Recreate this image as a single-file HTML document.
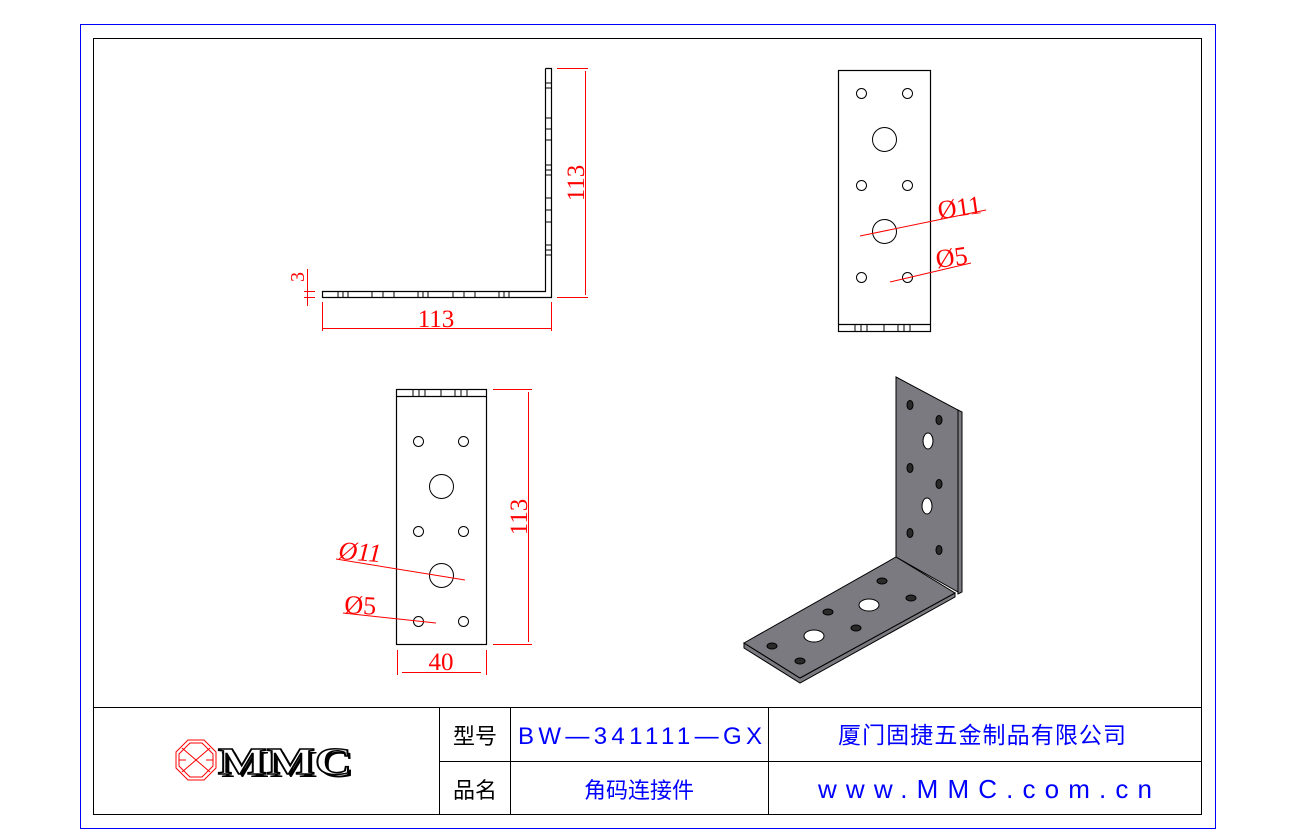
<!DOCTYPE html>
<html><head><meta charset="utf-8"><style>
html,body{margin:0;padding:0;background:#fff;}
svg{display:block;}
</style></head><body>
<svg width="1300" height="840" viewBox="0 0 1300 840" xmlns="http://www.w3.org/2000/svg">
<rect x="0" y="0" width="1300" height="840" fill="#fff"/>
<rect x="80.5" y="24.5" width="1135" height="804" fill="none" stroke="#00f" stroke-width="1"/>
<rect x="93.5" y="38.5" width="1108" height="776" fill="none" stroke="#000" stroke-width="1"/>
<!-- title block -->
<g stroke="#000" stroke-width="1">
<line x1="93" y1="707.5" x2="1202" y2="707.5"/>
<line x1="439.5" y1="761.5" x2="1202" y2="761.5"/>
<line x1="439.5" y1="707" x2="439.5" y2="815"/>
<line x1="510.5" y1="707" x2="510.5" y2="815"/>
<line x1="768.5" y1="707" x2="768.5" y2="815"/>
</g>
<g font-family="Liberation Sans, 'Noto Sans CJK SC', sans-serif">
<text x="475" y="744" font-size="22" text-anchor="middle" fill="#000">型号</text>
<text x="475" y="798" font-size="22" text-anchor="middle" fill="#000">品名</text>
<text x="640" y="744" font-size="24" text-anchor="middle" fill="#00f" textLength="244">BW—341111—GX</text>
<text x="982" y="743" font-size="23" text-anchor="middle" fill="#00f" textLength="288">厦门固捷五金制品有限公司</text>
<text x="639" y="798" font-size="22" text-anchor="middle" fill="#00f">角码连接件</text>
<text x="985" y="798" font-size="26" text-anchor="middle" fill="#00f" textLength="334">www.MMC.com.cn</text>
</g>
<!-- logo -->
<g stroke="#f00" fill="none" stroke-width="1">
<polygon points="188,740 204,740 216,752 216,768 204,780 188,780 176,768 176,752"/>
<polygon points="190,743 202,743 213,754 213,766 202,777 190,777 179,766 179,754"/>
<line x1="182" y1="748" x2="210" y2="772"/><line x1="210" y1="748" x2="182" y2="772"/>
<line x1="179" y1="760" x2="186" y2="760"/><line x1="206" y1="760" x2="213" y2="760"/>
</g>
<text x="221" y="777" font-family="Liberation Serif, serif" font-weight="bold" font-size="38" fill="#000" textLength="134" lengthAdjust="spacingAndGlyphs">MMC</text>
<text x="218" y="774" font-family="Liberation Serif, serif" font-weight="bold" font-size="38" fill="#fff" stroke="#000" stroke-width="1.5" textLength="134" lengthAdjust="spacingAndGlyphs">MMC</text>
<!-- side view -->
<g stroke="#000" stroke-width="1.2" fill="none">
<polyline points="545.5,68.5 551.5,68.5 551.5,297.5 322.5,297.5 322.5,291.5 545.5,291.5 545.5,68.5"/>
<g stroke-width="1">
<line x1="545" y1="83" x2="551" y2="83"/><line x1="545" y1="88" x2="551" y2="88"/>
<line x1="545" y1="118" x2="551" y2="118"/><line x1="545" y1="129" x2="551" y2="129"/><line x1="545" y1="140" x2="551" y2="140"/>
<line x1="545" y1="165" x2="551" y2="165"/><line x1="545" y1="170" x2="551" y2="170"/><line x1="545" y1="175" x2="551" y2="175"/>
<line x1="545" y1="198" x2="551" y2="198"/><line x1="545" y1="210" x2="551" y2="210"/><line x1="545" y1="222" x2="551" y2="222"/>
<line x1="545" y1="245" x2="551" y2="245"/><line x1="545" y1="250" x2="551" y2="250"/><line x1="545" y1="255" x2="551" y2="255"/>
<line x1="338" y1="291" x2="338" y2="297"/><line x1="343" y1="291" x2="343" y2="297"/><line x1="348" y1="291" x2="348" y2="297"/>
<line x1="372" y1="291" x2="372" y2="297"/><line x1="383" y1="291" x2="383" y2="297"/><line x1="394" y1="291" x2="394" y2="297"/>
<line x1="418" y1="291" x2="418" y2="297"/><line x1="423" y1="291" x2="423" y2="297"/><line x1="428" y1="291" x2="428" y2="297"/>
<line x1="453" y1="291" x2="453" y2="297"/><line x1="464" y1="291" x2="464" y2="297"/><line x1="475" y1="291" x2="475" y2="297"/>
<line x1="499" y1="291" x2="499" y2="297"/><line x1="504" y1="291" x2="504" y2="297"/><line x1="509" y1="291" x2="509" y2="297"/>
</g></g>
<g stroke="#f00" stroke-width="1" fill="none">
<line x1="557" y1="68.5" x2="588" y2="68.5"/><line x1="557" y1="297.5" x2="588" y2="297.5"/>
<line x1="585.5" y1="71" x2="585.5" y2="295"/>
<line x1="322.5" y1="302" x2="322.5" y2="331"/><line x1="551.5" y1="302" x2="551.5" y2="331"/>
<line x1="322" y1="328.5" x2="551" y2="328.5"/>
<line x1="307.5" y1="269" x2="307.5" y2="306"/>
<line x1="304" y1="291.5" x2="315" y2="291.5"/><line x1="304" y1="297.5" x2="315" y2="297.5"/>
</g>
<g fill="#f00" font-family="Liberation Serif, serif" font-size="25">
<text x="436" y="327" text-anchor="middle">113</text>
<text transform="translate(584,183) rotate(-90)" text-anchor="middle">113</text>
<text transform="translate(304,277) rotate(-90)" text-anchor="middle" font-size="20">3</text>
</g>
<!-- top-right view -->
<g stroke="#000" stroke-width="1.2" fill="none">
<rect x="838.5" y="70.5" width="92" height="261"/>
<line x1="838" y1="324.5" x2="930" y2="324.5"/>
<g stroke-width="1">
<line x1="855" y1="324" x2="855" y2="331"/><line x1="861" y1="324" x2="861" y2="331"/><line x1="867" y1="324" x2="867" y2="331"/>
<line x1="884" y1="324" x2="884" y2="331"/>
<line x1="898" y1="324" x2="898" y2="331"/><line x1="904" y1="324" x2="904" y2="331"/><line x1="910" y1="324" x2="910" y2="331"/>
<circle cx="861.5" cy="93.5" r="5"/><circle cx="907.5" cy="93.5" r="5"/>
<circle cx="861.5" cy="185.5" r="5"/><circle cx="907.5" cy="185.5" r="5"/>
<circle cx="861.5" cy="277.5" r="5"/><circle cx="907.5" cy="277.5" r="5"/>
<circle cx="884.5" cy="139.5" r="12"/><circle cx="884.5" cy="231.5" r="12"/>
</g></g>
<g stroke="#f00" stroke-width="1">
<line x1="860" y1="236" x2="986" y2="210"/><line x1="890" y1="282" x2="971" y2="263"/>
</g>
<g fill="#f00" font-family="Liberation Serif, serif" font-size="26">
<text transform="translate(939,219) rotate(-8)">Ø11</text>
<text transform="translate(937,268) rotate(-8)">Ø5</text>
</g>
<!-- bottom-left view -->
<g stroke="#000" stroke-width="1.2" fill="none">
<rect x="396.5" y="389.5" width="90" height="255"/>
<line x1="396" y1="396.5" x2="486" y2="396.5"/>
<g stroke-width="1">
<line x1="413" y1="389" x2="413" y2="396"/><line x1="419" y1="389" x2="419" y2="396"/><line x1="425" y1="389" x2="425" y2="396"/>
<line x1="441" y1="389" x2="441" y2="396"/>
<line x1="455" y1="389" x2="455" y2="396"/><line x1="461" y1="389" x2="461" y2="396"/><line x1="467" y1="389" x2="467" y2="396"/>
<circle cx="418.5" cy="441.5" r="5"/><circle cx="463.5" cy="441.5" r="5"/>
<circle cx="418.5" cy="531.5" r="5"/><circle cx="463.5" cy="531.5" r="5"/>
<circle cx="418.5" cy="621.5" r="5"/><circle cx="463.5" cy="621.5" r="5"/>
<circle cx="441.5" cy="486.5" r="12"/><circle cx="441.5" cy="575.5" r="12"/>
</g></g>
<g stroke="#f00" stroke-width="1" fill="none">
<line x1="493" y1="389.5" x2="532" y2="389.5"/><line x1="493" y1="644.5" x2="532" y2="644.5"/>
<line x1="528.5" y1="392" x2="528.5" y2="642"/>
<line x1="397.5" y1="650" x2="397.5" y2="675"/><line x1="486.5" y1="650" x2="486.5" y2="675"/>
<line x1="402" y1="672.5" x2="481" y2="672.5"/>
<line x1="336" y1="559" x2="465" y2="580"/><line x1="343" y1="613" x2="436" y2="623"/>
</g>
<g fill="#f00" font-family="Liberation Serif, serif" font-size="25">
<text x="441" y="670" text-anchor="middle">40</text>
<text transform="translate(527,517) rotate(-90)" text-anchor="middle">113</text>
<text transform="translate(338,559) rotate(4)" font-style="italic" font-size="26">Ø11</text>
<text transform="translate(344,613) rotate(3)" font-size="26">Ø5</text>
</g>
<!-- isometric -->
<g stroke="#000" stroke-width="1" fill="#7b7a80">
<polygon points="958,410 962,412 962,592 958,594"/>
<polygon points="896,377 958,410 958,592 896,557"/>
<polygon points="744,643 744,648 800,683 955,597 955,593 800,678"/>
<polygon points="744,643 896,557 955,593 800,678"/>
<g fill="#2a2a2a">
<ellipse cx="910" cy="405" rx="3" ry="4.5"/><ellipse cx="939" cy="420" rx="3" ry="4.5"/>
<ellipse cx="910" cy="468" rx="3" ry="4.5"/><ellipse cx="939" cy="484" rx="3" ry="4.5"/>
<ellipse cx="910" cy="533" rx="3" ry="4.5"/><ellipse cx="939" cy="550" rx="3" ry="4.5"/>
<ellipse cx="772" cy="646" rx="5" ry="3"/><ellipse cx="800" cy="661" rx="5" ry="3"/>
<ellipse cx="828" cy="612" rx="5" ry="3"/><ellipse cx="856" cy="628" rx="5" ry="3"/>
<ellipse cx="882" cy="581" rx="5" ry="3"/><ellipse cx="911" cy="598" rx="5" ry="3"/>
</g>
<g fill="#fff">
<ellipse cx="928" cy="441" rx="5" ry="8"/><ellipse cx="927" cy="506" rx="5" ry="8"/>
<ellipse cx="814" cy="636" rx="10" ry="6"/><ellipse cx="869" cy="605" rx="10" ry="6"/>
</g>
</g>
</svg>
</body></html>
